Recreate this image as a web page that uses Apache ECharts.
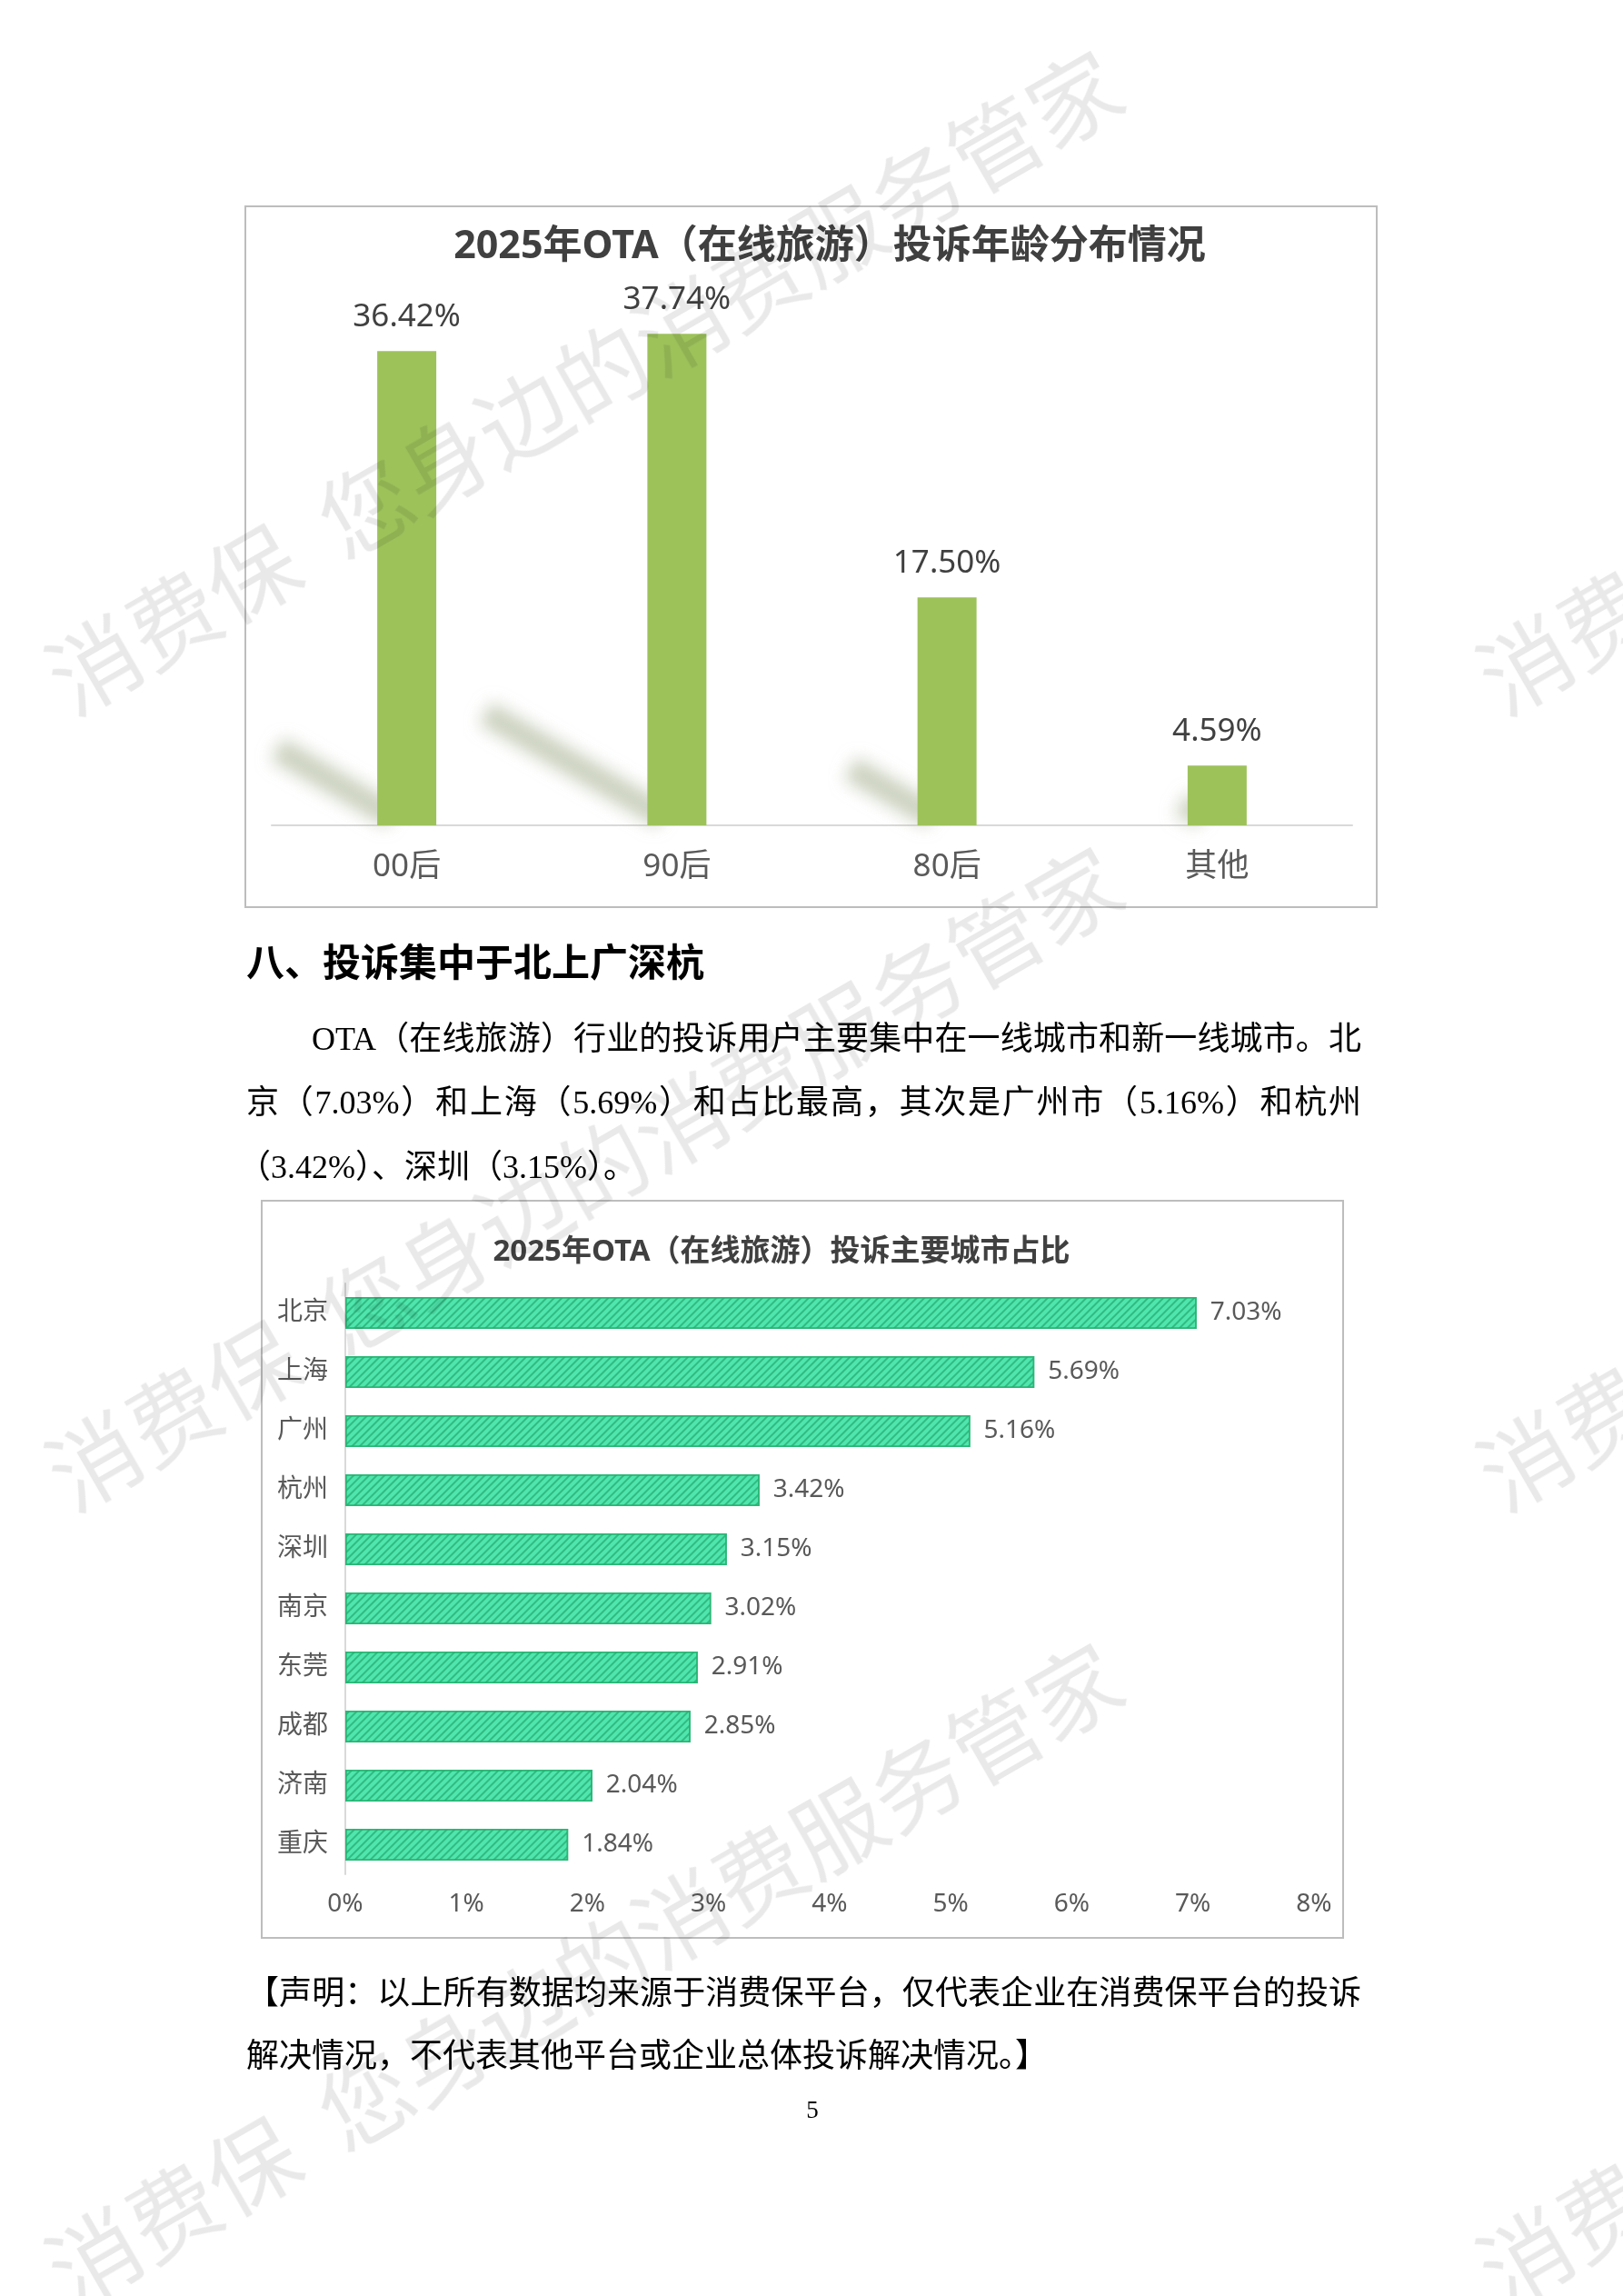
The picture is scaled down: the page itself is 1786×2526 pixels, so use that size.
<!DOCTYPE html>
<html>
<head>
<meta charset="utf-8">
<script src="https://cdn.jsdelivr.net/npm/echarts@6/dist/echarts.min.js"></script>
<style>
  html, body { margin:0; padding:0; background:#ffffff; }
  #page { position:relative; width:1786px; height:2526px; overflow:hidden; background:#fff; }
  #chart { position:absolute; left:0; top:0; width:1786px; height:2526px; }
  .txt { position:absolute; left:271px; width:1227px; font-size:36px; line-height:50px; color:#000;
         font-family:"Liberation Serif","Noto Sans CJK SC",serif; white-space:nowrap; z-index:2; }
  .just { text-align:justify; text-align-last:justify; white-space:normal; }
  .head { font-family:"Noto Sans CJK SC",sans-serif; font-weight:bold; font-size:42px; }
  .wm { position:absolute; font-family:"Noto Sans CJK SC",sans-serif; font-size:100px; line-height:100px;
        color:rgba(0,0,0,0.085); white-space:pre; transform-origin:0 50%; transform:rotate(-30deg);
        pointer-events:none; z-index:5; }
</style>
</head>
<body>
<div id="page">
  <div id="chart"></div>
  <div class="txt head" style="top:1031px;">八、投诉集中于北上广深杭</div>
  <div class="txt just" style="top:1118px; left:343px; width:1155px;">OTA（在线旅游）行业的投诉用户主要集中在一线城市和新一线城市。北</div>
  <div class="txt just" style="top:1188px;">京（7.03%）和上海（5.69%）和占比最高，其次是广州市（5.16%）和杭州</div>
  <div class="txt" style="top:1259px; left:262px;">（3.42%）、深圳（3.15%）。</div>
  <div class="txt just" style="top:2168px;">【声明：以上所有数据均来源于消费保平台，仅代表企业在消费保平台的投诉</div>
  <div class="txt" style="top:2237px;">解决情况，不代表其他平台或企业总体投诉解决情况。】</div>
  <div class="txt" style="top:2306px; left:0; width:1788px; text-align:center; font-size:27px; line-height:30px;">5</div>
  <div id="wms"></div>
</div>
<script>
// ---- data ----
const ageCategories = ['00后', '90后', '80后', '其他'];
const ageValues = [36.42, 37.74, 17.50, 4.59];
const cityCategories = ['北京', '上海', '广州', '杭州', '深圳', '南京', '东莞', '成都', '济南', '重庆'];
const cityValues = [7.03, 5.69, 5.16, 3.42, 3.15, 3.02, 2.91, 2.85, 2.04, 1.84];
const cityTickLabels = ['0%', '1%', '2%', '3%', '4%', '5%', '6%', '7%', '8%'];
const title1 = '2025年OTA（在线旅游）投诉年龄分布情况';
const title2 = '2025年OTA（在线旅游）投诉主要城市占比';
const watermarkText = '消费保  您身边的消费服务管家';

// ---- watermarks ----
(function(){
  const host = document.getElementById('wms');
  for (let i = 0; i < 2; i++) {
    for (let j = 0; j < 3; j++) {
      const d = document.createElement('div');
      d.className = 'wm';
      d.textContent = watermarkText;
      d.style.left = (58 + i * 1575) + 'px';
      d.style.top = (702 + j * 876) + 'px';
      host.appendChild(d);
    }
  }
})();

const FONT = "'Noto Sans','Noto Sans CJK SC',sans-serif";
const chart = echarts.init(document.getElementById('chart'), null, {renderer: 'canvas'});

const OFF = 5000;
function shadowItem(params, api) {
  const i = api.value(0), v = api.value(1);
  const base = api.coord([i, 0]);
  const top = api.coord([i, v]);
  const h = base[1] - top[1];
  const bx = base[0] - 32;
  const x1 = bx + 16, y1 = base[1] - 10;
  let x0 = x1 - 0.36 * h, y0 = y1 - 0.21 * h;
  const cs = params.coordSys;
  if (x0 < cs.x + 6) {
    const t = (x1 - cs.x - 6) / (x1 - x0);
    y0 = y1 - t * (y1 - y0);
    x0 = cs.x + 6;
  }
  return {
    type: 'line',
    shape: {x1: x0 - OFF, y1: y0, x2: x1 - OFF, y2: y1},
    style: {
      stroke: '#b7c0a5',
      lineWidth: 28,
      lineCap: 'butt',
      shadowBlur: 18,
      shadowOffsetX: OFF,
      shadowColor: 'rgba(170,180,150,0.6)'
    }
  };
}

const option = {
  backgroundColor: '#ffffff',
  animation: false,
  textStyle: {fontFamily: FONT},
  graphic: [
    {type: 'rect', shape: {x: 270, y: 227, width: 1245, height: 771},
     style: {fill: 'none', stroke: '#bdbdbd', lineWidth: 2}, z: 1},
    {type: 'rect', shape: {x: 288, y: 1321, width: 1190, height: 811},
     style: {fill: 'none', stroke: '#bdbdbd', lineWidth: 2}, z: 1},
    {type: 'text', x: 913, y: 272, z: 10,
     style: {text: title1, fill: '#404040', font: 'bold 43px ' + FONT, textAlign: 'center', textVerticalAlign: 'middle'}},
    {type: 'text', x: 860, y: 1378, z: 10,
     style: {text: title2, fill: '#404040', font: 'bold 33px ' + FONT, textAlign: 'center', textVerticalAlign: 'middle'}}
  ],
  grid: [
    {left: 299, top: 335, width: 1189, height: 573},
    {left: 380, top: 1412, width: 1066, height: 650}
  ],
  xAxis: [
    {type: 'category', gridIndex: 0, data: ageCategories,
     axisLine: {lineStyle: {color: '#d9d9d9', width: 2}},
     axisTick: {show: false},
     axisLabel: {fontSize: 35, color: '#595959', margin: 29, fontFamily: FONT}},
    {type: 'value', gridIndex: 1, min: 0, max: 8, interval: 1,
     axisLine: {show: false}, axisTick: {show: false}, splitLine: {show: false},
     axisLabel: {fontSize: 28, color: '#595959', margin: 19, fontFamily: FONT,
                 formatter: v => cityTickLabels[Math.round(v)]}}
  ],
  yAxis: [
    {type: 'value', gridIndex: 0, min: 0, max: 40, show: false},
    {type: 'category', gridIndex: 1, data: cityCategories, inverse: true,
     axisLine: {lineStyle: {color: '#d9d9d9', width: 2}},
     axisTick: {show: false},
     axisLabel: {fontSize: 28, color: '#595959', margin: 19, fontFamily: FONT}}
  ],
  series: [
    {type: 'custom', xAxisIndex: 0, yAxisIndex: 0, z: 1,
     data: ageValues.map((v, i) => [i, v]), renderItem: shadowItem, silent: true},
    {type: 'bar', xAxisIndex: 0, yAxisIndex: 0, z: 3, data: ageValues, barWidth: 65,
     itemStyle: {color: '#9dc25a'},
     label: {show: true, position: 'top', distance: 20, fontSize: 35, color: '#404040', fontFamily: FONT,
             formatter: p => p.value.toFixed(2) + '%'}},
    {type: 'bar', xAxisIndex: 1, yAxisIndex: 1, data: cityValues, barWidth: 35,
     itemStyle: {color: '#4fe6ad', borderColor: '#2bb676', borderWidth: 1.5,
       decal: {symbol: 'rect', symbolSize: 1, dashArrayX: [1, 0], dashArrayY: [2, 4],
               rotation: -Math.PI / 4, color: 'rgba(25,150,95,0.55)'}},
     label: {show: true, position: 'right', distance: 15, fontSize: 28, color: '#595959', fontFamily: FONT,
             formatter: p => p.value.toFixed(2) + '%'}}
  ]
};
chart.setOption(option);
</script>
</body>
</html>
